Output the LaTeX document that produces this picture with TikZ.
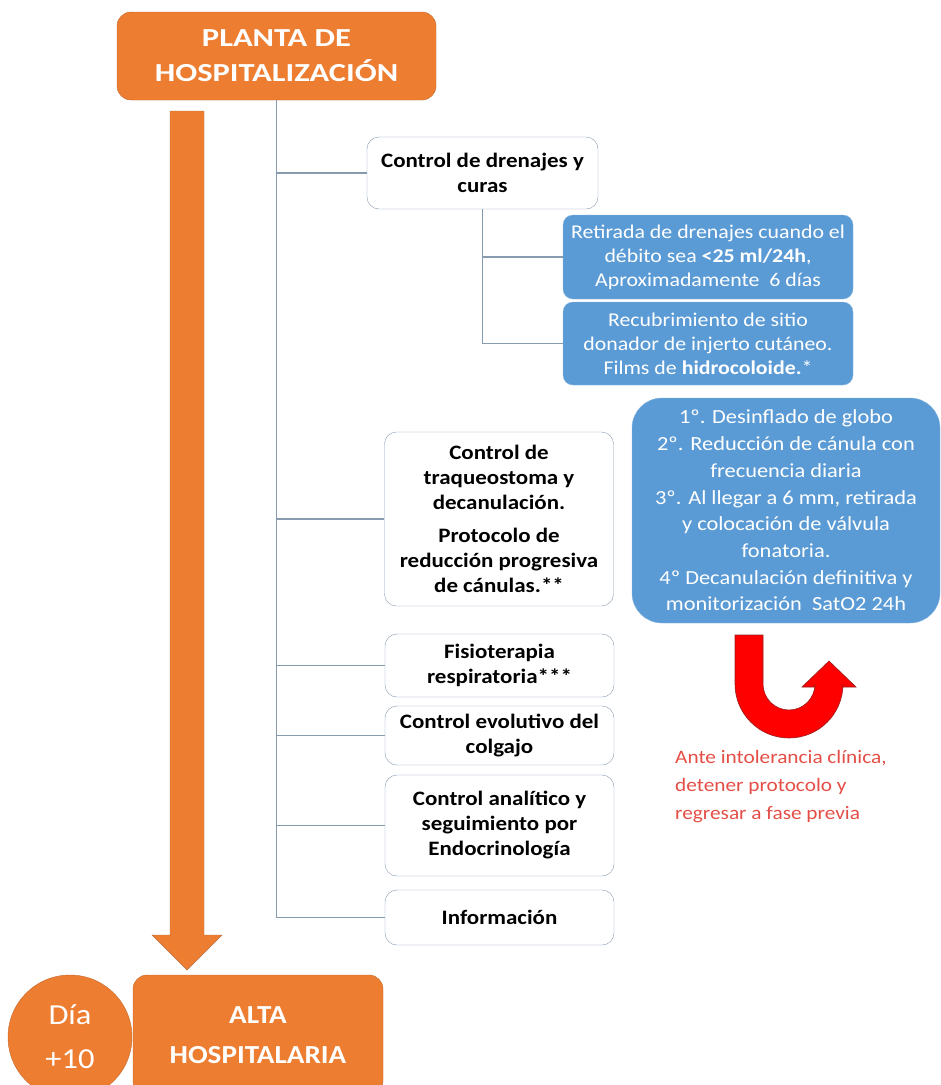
\documentclass[tikz,border=0pt]{standalone}
\usepackage{fontspec}
\setmainfont{Carlito}[FakeStretch=1.12]
\newfontfamily\titular{Carlito}[FakeStretch=1.25]
\usetikzlibrary{positioning,arrows.meta,shapes.geometric,calc}
\definecolor{naranja}{RGB}{237,125,49}
\definecolor{naranjaborde}{RGB}{196,104,44}
\definecolor{azul}{RGB}{91,155,213}
\definecolor{azulborde}{RGB}{132,180,224}
\definecolor{gris}{RGB}{135,155,175}
\definecolor{rojo}{RGB}{255,0,0}
\definecolor{rojoborde}{RGB}{150,30,30}
\definecolor{rojotexto}{RGB}{228,78,70}

\begin{document}
\begin{tikzpicture}[x=1pt, y=-1pt,
    caja/.style={draw=gris, fill=white, rounded corners=12pt, align=center, inner sep=2pt,
      minimum width=229pt, font=\bfseries\fontsize{20.5}{25}\selectfont},
    cajaazul/.style={draw=azulborde, fill=azul, text=white, rounded corners=10pt, align=center,
      inner sep=2pt, minimum width=290pt, font=\fontsize{19.5}{24}\selectfont},
    cajanaranja/.style={draw=naranjaborde, fill=naranja, text=white, rounded corners=14pt,
      align=center, font=\bfseries\fontsize{26}{40}\selectfont},
    rama/.style={draw=gris, line width=1.3pt}]
  \useasboundingbox (0,0) rectangle (941,1085);
  % cabecera y flecha de estancia
  \node[cajanaranja, minimum width=319pt, minimum height=88pt, text depth=0pt,
    font=\titular\bfseries\fontsize{26}{35}\selectfont] (planta) at (276.5,56)
    {PLANTA DE\\HOSPITALIZACIÓN};
  \fill[naranja, draw=naranjaborde!80!gris] (170,111) -- (204,111) -- (204,935) -- (222,935)
    -- (187,970) -- (152,935) -- (170,935) -- cycle;
  % cuidados en planta
  \node[caja, minimum width=231pt, minimum height=72pt] (drenajes) at (482.5,173)
    {Control de drenajes y\\curas};
  \node[cajaazul, minimum height=84pt] (retirada) at (708,257)
    {Retirada de drenajes cuando el\\débito sea \textbf{<25 ml/24h},\\Aproximadamente~ 6 días};
  \node[cajaazul, minimum height=83pt] (recubrimiento) at (708,343.5)
    {Recubrimiento de sitio\\donador de injerto cutáneo.\\Films de \textbf{hidrocoloide.}*};
  \node[caja, minimum height=174pt] (traqueo) at (499,519)
    {Control de\\traqueostoma y\\decanulación.\\[8pt]Protocolo de\\reducción progresiva\\de cánulas.**};
  \node[caja, minimum height=63pt] (fisio) at (499.5,665.5)
    {Fisioterapia\\respiratoria***};
  \node[caja, minimum height=59pt] (evolutivo) at (499.5,735.5)
    {Control evolutivo del\\colgajo};
  \node[caja, minimum height=101pt] (analitico) at (499.5,825.5)
    {Control analítico y\\seguimiento por\\Endocrinología};
  \node[caja, minimum height=55pt] (info) at (499.5,917.5)
    {Información};
  % protocolo de decanulación
  \node[cajaazul, rounded corners=30pt, minimum width=308pt, minimum height=225pt,
    font=\fontsize{20}{26.7}\selectfont] (pasos) at (786,510.5)
    {1º. Desinflado de globo\\2º. Reducción de cánula con\\frecuencia diaria\\3º. Al llegar a 6 mm, retirada\\y colocación de válvula\\fonatoria.\\4º Decanulación definitiva y\\monitorización~ SatO2 24h};
  % conectores
  \draw[rama] (planta.south) -- (planta.south |- info.west);
  \foreach \n in {drenajes,traqueo,fisio,evolutivo,analitico,info} {
    \draw[rama] (planta.south |- \n.west) -- (\n.west);
  }
  \draw[rama] (drenajes.south) -- (drenajes.south |- recubrimiento.west) -- (recubrimiento.west);
  \draw[rama] (drenajes.south |- retirada.west) -- (retirada.west);
  % vuelta a fase previa
  \filldraw[fill=rojo, draw=rojoborde, line width=0.6pt] (735,635) -- (735,684)
    arc[start angle=180, end angle=0, radius=54] -- (843,687) -- (856,687) -- (829,661)
    -- (802,687) -- (815,687) -- (815,684) arc[start angle=0, end angle=180, radius=26]
    -- (763,635) -- cycle;
  \node[anchor=north west, align=left, text=rojotexto, inner sep=0pt,
    font=\fontsize{19}{28}\selectfont] (aviso) at (675,750)
    {Ante intolerancia clínica,\\detener protocolo y\\regresar a fase previa};
  % alta
  \node[cajanaranja, minimum width=250pt, minimum height=120pt] (alta) at (258,1035)
    {ALTA\\HOSPITALARIA};
  \node[circle, draw=naranjaborde, fill=naranja, text=white, minimum size=124pt, align=center,
    inner sep=0pt, font=\fontsize{29}{44}\selectfont] (dia) at (70,1037) {Día\\+10};
\end{tikzpicture}
\end{document}
